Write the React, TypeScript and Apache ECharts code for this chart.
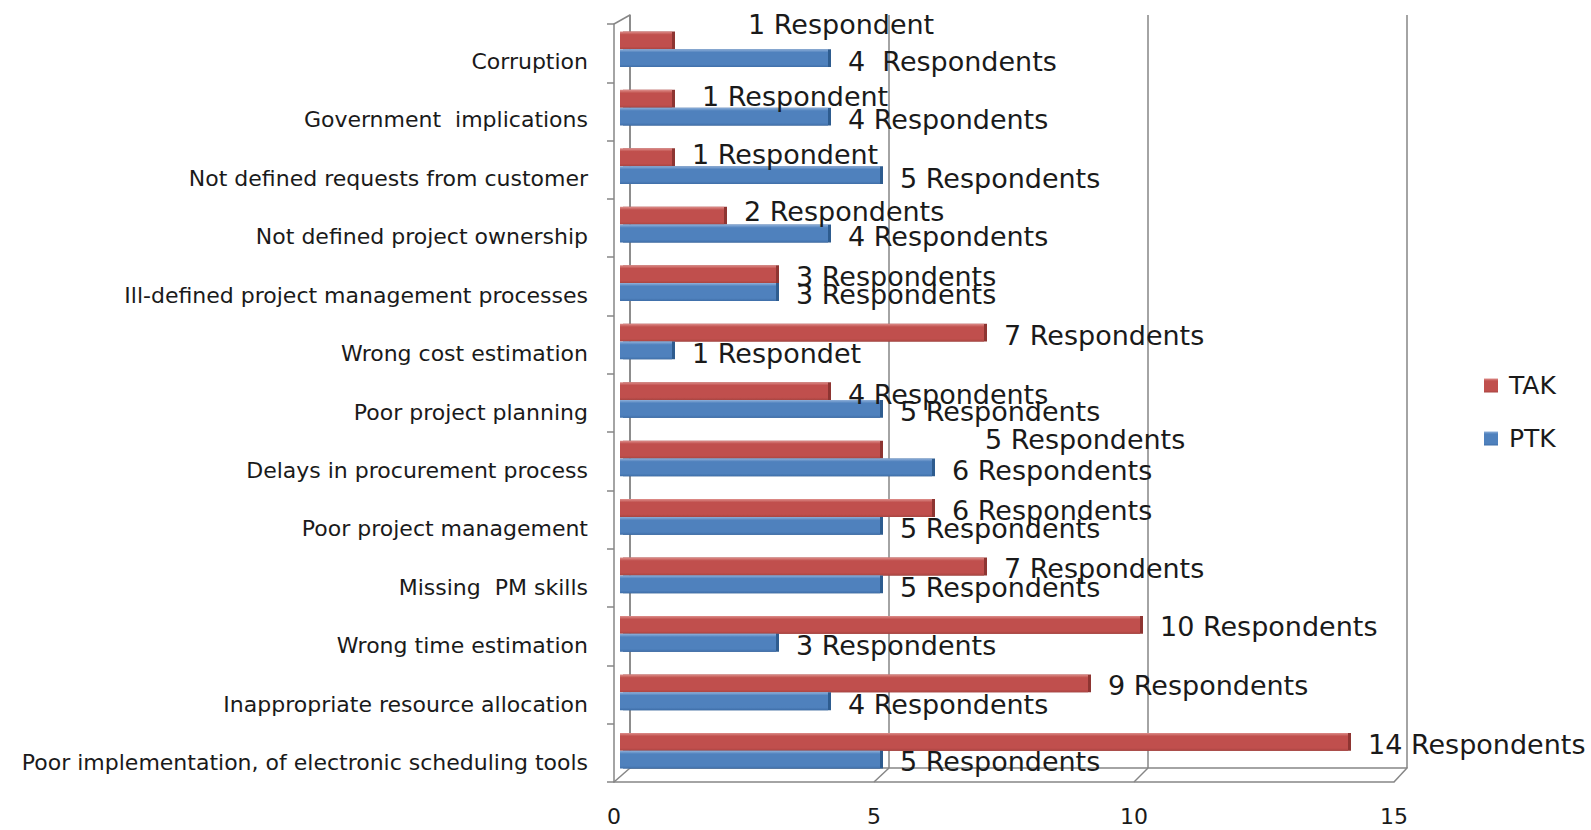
import React, { useEffect, useRef } from "react";
import * as echarts from "echarts";

const categories = [
  "Corruption",
  "Government  implications",
  "Not defined requests from customer",
  "Not defined project ownership",
  "Ill-defined project management processes",
  "Wrong cost estimation",
  "Poor project planning",
  "Delays in procurement process",
  "Poor project management",
  "Missing  PM skills",
  "Wrong time estimation",
  "Inappropriate resource allocation",
  "Poor implementation, of electronic scheduling tools",
];

const takValues = [1, 1, 1, 2, 3, 7, 4, 5, 6, 7, 10, 9, 14];
const ptkValues = [4, 4, 5, 4, 3, 1, 5, 6, 5, 5, 3, 4, 5];

const takLabels = [
  "1 Respondent",
  "1 Respondent",
  "1 Respondent",
  "2 Respondents",
  "3 Respondents",
  "7 Respondents",
  "4 Respondents",
  "5 Respondents",
  "6 Respondents",
  "7 Respondents",
  "10 Respondents",
  "9 Respondents",
  "14 Respondents",
];
const ptkLabels = [
  "4  Respondents",
  "4 Respondents",
  "5 Respondents",
  "4 Respondents",
  "3 Respondents",
  "1 Respondet",
  "5 Respondents",
  "6 Respondents",
  "5 Respondents",
  "5 Respondents",
  "3 Respondents",
  "4 Respondents",
  "5 Respondents",
];

const xMin = 0;
const xMax = 15;
const xInterval = 5;

// manual label nudges (label placement as in the original chart)
const takLabelNudge: [number, number][] = [
  [56, -16], [10, -2], [0, -3], [0, -4], [0, 2], [0, 3], [0, 3],
  [85, -10], [0, 2], [0, 2], [0, 2], [0, 2], [0, 3],
];
const ptkLabelNudge: [number, number][] = [
  [0, 3], [0, 3], [0, 3], [0, 3], [0, 3], [0, 3], [0, 3],
  [0, 3], [0, 3], [0, 3], [0, 3], [0, 3], [0, 2],
];

const RED = "#C0504D";
const BLUE = "#4F81BD";
const GRAY = "#868686";
const FONT = "DejaVu Sans";

function grad(light: string, main: string, dark: string) {
  return new echarts.graphic.LinearGradient(0, 0, 0, 1, [
    { offset: 0, color: light },
    { offset: 0.18, color: main },
    { offset: 0.85, color: main },
    { offset: 1, color: dark },
  ]);
}

export default function App() {
  const ref = useRef<HTMLDivElement>(null);
  useEffect(() => {
    if (!ref.current) return;
    const chart = echarts.init(ref.current, null, { renderer: "svg" });
    const labelStyle = {
      show: true,
      position: "right" as const,
      distance: 20,
      fontFamily: FONT,
      fontSize: 27,
      color: "#1a1a1a",
    };
    const option: any = {
      animation: false,
      backgroundColor: "#ffffff",
      legend: {
        orient: "vertical",
        left: 1479,
        top: 368,
        itemWidth: 14,
        itemHeight: 14,
        itemGap: 28,
        icon: "rect",
        textStyle: { fontFamily: FONT, fontSize: 25, color: "#1a1a1a", padding: [0, 0, 0, 6] },
        data: ["TAK", "PTK"],
      },
      grid: [
        { left: 620, top: 20, width: 780, height: 760 }, // bars
        { left: 620, top: 32, width: 780, height: 760 }, // category labels
        { left: 614, top: 24, width: 780, height: 758 }, // front frame
        { left: 630, top: 15, width: 777, height: 753 }, // back wall
      ],
      xAxis: [
        { gridIndex: 0, type: "value", min: xMin, max: xMax, interval: xInterval, show: false },
        { gridIndex: 1, type: "value", min: xMin, max: xMax, show: false },
        {
          gridIndex: 2,
          type: "value",
          min: xMin,
          max: xMax,
          interval: xInterval,
          axisLine: { show: true, lineStyle: { color: GRAY, width: 1.5 } },
          axisTick: { show: false },
          splitLine: { show: false },
          axisLabel: { fontFamily: FONT, fontSize: 22, color: "#1a1a1a", margin: 23 },
        },
        {
          gridIndex: 3,
          type: "value",
          min: xMin,
          max: xMax,
          interval: xInterval,
          axisLine: { show: true, lineStyle: { color: GRAY, width: 1.5 } },
          axisTick: { show: false },
          axisLabel: { show: false },
          splitLine: { show: true, lineStyle: { color: GRAY, width: 1.5 } },
        },
      ],
      yAxis: [
        { gridIndex: 0, type: "category", inverse: true, data: categories, show: false },
        {
          gridIndex: 1,
          type: "category",
          inverse: true,
          data: categories,
          axisLine: { show: false },
          axisTick: { show: false },
          axisLabel: { fontFamily: FONT, fontSize: 22, color: "#1a1a1a", margin: 32 },
        },
        {
          gridIndex: 2,
          type: "category",
          inverse: true,
          data: categories,
          axisLine: { show: true, lineStyle: { color: GRAY, width: 1.5 } },
          axisTick: { show: true, length: 7, lineStyle: { color: GRAY, width: 1.5 } },
          axisLabel: { show: false },
        },
        {
          gridIndex: 3,
          type: "value",
          min: 0,
          max: 1,
          axisLine: { show: true, lineStyle: { color: GRAY, width: 1.5 } },
          axisTick: { show: false },
          axisLabel: { show: false },
          splitLine: { show: false },
        },
      ],
      series: [
        {
          name: "TAK",
          type: "bar",
          xAxisIndex: 0,
          yAxisIndex: 0,
          barCategoryGap: "39%",
          barGap: "0%",
          z: 5,
          itemStyle: {
            color: grad("#DE8E8B", RED, "#A84441"),
            shadowColor: "#8E3431",
            shadowOffsetX: 3,
            shadowBlur: 0,
          },
          label: { ...labelStyle, formatter: (p: any) => takLabels[p.dataIndex] },
          data: takValues.map((v, i) => ({ value: v, label: { offset: takLabelNudge[i] } })),
        },
        {
          name: "PTK",
          type: "bar",
          xAxisIndex: 0,
          yAxisIndex: 0,
          barCategoryGap: "39%",
          barGap: "0%",
          z: 5,
          itemStyle: {
            color: grad("#8FB0DA", BLUE, "#3F6EA8"),
            shadowColor: "#2F5B8F",
            shadowOffsetX: 3,
            shadowBlur: 0,
          },
          label: { ...labelStyle, formatter: (p: any) => ptkLabels[p.dataIndex] },
          data: ptkValues.map((v, i) => ({ value: v, label: { offset: ptkLabelNudge[i] } })),
        },
        { type: "line", xAxisIndex: 3, yAxisIndex: 3, data: [], silent: true },
        { type: "line", xAxisIndex: 2, yAxisIndex: 2, data: [], silent: true },
        { type: "line", xAxisIndex: 1, yAxisIndex: 1, data: [], silent: true },
      ],
    };
    chart.setOption(option);

    // 3D frame connectors between front and back floor/edges
    const lines: any[] = [];
    const backBottom = chart.convertToPixel({ yAxisIndex: 3 }, 0) as number;
    for (let v = xMin; v <= xMax; v += xInterval) {
      const fx = chart.convertToPixel({ xAxisIndex: 2 }, v) as number;
      const bx = chart.convertToPixel({ xAxisIndex: 3 }, v) as number;
      lines.push({
        type: "line",
        shape: { x1: fx, y1: 782, x2: bx, y2: backBottom },
        style: { stroke: GRAY, lineWidth: 1.5 },
        z: 1,
      });
    }
    const backTop = chart.convertToPixel({ yAxisIndex: 3 }, 1) as number;
    const backLeft = chart.convertToPixel({ xAxisIndex: 3 }, 0) as number;
    const frontLeft = chart.convertToPixel({ xAxisIndex: 2 }, 0) as number;
    lines.push({
      type: "line",
      shape: { x1: frontLeft, y1: 24, x2: backLeft, y2: backTop },
      style: { stroke: GRAY, lineWidth: 1.5 },
      z: 1,
    });
    chart.setOption({ graphic: lines });

    return () => chart.dispose();
  }, []);
  return (
    <div
      ref={ref}
      style={{ position: "absolute", left: 0, top: 0, width: 1591, height: 830 }}
    />
  );
}
